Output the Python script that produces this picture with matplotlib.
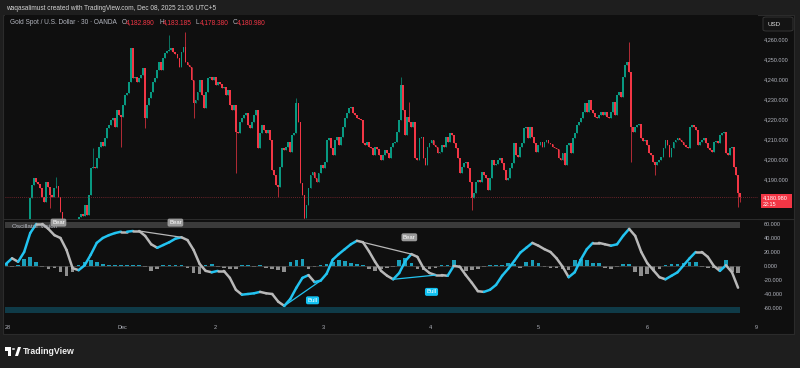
import matplotlib
matplotlib.use('Agg')
import matplotlib.pyplot as plt
from matplotlib.collections import LineCollection
from matplotlib.patches import Rectangle, FancyBboxPatch
import numpy as np

plt.rcParams['font.family'] = ['Liberation Sans', 'DejaVu Sans']

# XAUUSD 30m, OANDA. first bars sit below the visible price range
first_open = 4162.0
early_closes = [4163, 4160, 4158, 4161, 4164, 4162, 4166, 4165, 4163, 4167, 4165, 4168]

closes = [
    4180.5, 4187, 4190.5, 4188.5, 4187.5, 4185.5, 4181, 4178.5, 4188.5, 4186,
    4182, 4181, 4185.5, 4186.5, 4181, 4173.5, 4169.5, 4166.5, 4164.5, 4163.5,
    4165.5, 4164.5, 4166.5, 4168.5, 4171, 4172.5, 4171.5, 4177, 4172, 4182,
    4195.5, 4196, 4195.5, 4200.5, 4206, 4208.5, 4206.5, 4210.5, 4215.5, 4217,
    4219.5, 4220.5, 4216, 4224.5, 4222, 4221, 4227, 4232, 4233, 4238.5,
    4255.5, 4240.5, 4241, 4238.5, 4240.5, 4242, 4245.5, 4220.5, 4227, 4230.5,
    4233.5, 4238.5, 4240.5, 4244.5, 4248.5, 4244.5, 4250.5, 4253, 4254, 4254.5,
    4255.5, 4253.5, 4252.5, 4250.5, 4246, 4253.5, 4256, 4248.5, 4247, 4246,
    4239.5, 4228, 4229.5, 4233.5, 4239.5, 4232, 4225.5, 4233.5, 4240.5, 4241,
    4239.5, 4241, 4237, 4238.5, 4237.5, 4235.5, 4236, 4232, 4234.5, 4227,
    4224.5, 4227, 4213.5, 4213, 4218.5, 4220.5, 4222, 4223, 4217, 4215.5,
    4218.5, 4222, 4224.5, 4205.5, 4213, 4217, 4214.5, 4213, 4214.5, 4209.5,
    4194.5, 4192, 4187, 4186, 4196, 4205.5, 4204.5, 4206, 4208.5, 4203.5,
    4212, 4213, 4228, 4218.5, 4188, 4182, 4170.5, 4177, 4185.5, 4192,
    4193.5, 4190.5, 4188.5, 4193, 4197, 4195.5, 4198.5, 4209.5, 4210.5, 4205.5,
    4202, 4209.5, 4211, 4207, 4211, 4216, 4220.5, 4223, 4225.5, 4226,
    4223, 4222, 4220.5, 4220, 4219.5, 4208, 4207, 4208.5, 4206, 4205.5,
    4202, 4206, 4205, 4202, 4199.5, 4202, 4204.5, 4203, 4200.5, 4206,
    4208, 4208.5, 4213.5, 4219.5, 4237, 4224.5, 4212, 4221, 4218.5, 4216,
    4218.5, 4200.5, 4199.5, 4210.5, 4211, 4200.5, 4197, 4206, 4208, 4209.5,
    4207, 4206, 4203, 4203.5, 4207, 4206, 4211, 4208.5, 4213, 4212,
    4208, 4205.5, 4200.5, 4193, 4196, 4198, 4198.5, 4195.5, 4188.5, 4180.5,
    4183, 4188.5, 4189.5, 4188.5, 4193.5, 4192, 4190.5, 4184.5, 4190.5, 4199.5,
    4197, 4197.5, 4199.5, 4200.5, 4198, 4194.5, 4189.5, 4190.5, 4195.5, 4198,
    4208, 4202, 4201, 4206, 4208, 4215.5, 4216, 4210.5, 4216, 4211,
    4208, 4203.5, 4207, 4208.5, 4206, 4208.5, 4209.5, 4208, 4207.5, 4206,
    4205.5, 4205, 4200.5, 4199.5, 4203, 4197, 4207, 4208, 4203, 4210.5,
    4213, 4217, 4218.5, 4220.5, 4223.5, 4228, 4223.5, 4229.5, 4224.5, 4223,
    4221, 4220.5, 4222, 4223.5, 4222, 4223.5, 4221, 4220.5, 4223.5, 4228.5,
    4222, 4232, 4233.5, 4231, 4241, 4247, 4248.5, 4243.5, 4216, 4213.5,
    4216, 4217, 4217.5, 4210.5, 4209, 4209.5, 4207, 4203, 4202, 4198.5,
    4197, 4198.5, 4199.5, 4201, 4205.5, 4209.5, 4207, 4201, 4205.5, 4208.5,
    4209.5, 4210.5, 4209.5, 4208.5, 4207, 4206, 4205.5, 4216, 4217, 4216,
    4214.5, 4207, 4208.5, 4209.5, 4210.5, 4208, 4205.5, 4204.5, 4203.5, 4208.5,
    4209, 4208, 4212, 4213, 4213.5, 4203, 4202, 4205.5, 4206, 4196,
    4192, 4182.89, 4180.98,
]

# only the wicks that stick out visibly (index into closes)
wick_highs = {13: 4191, 31: 4205.5, 69: 4262, 77: 4263.5, 132: 4230.5,
              184: 4241, 188: 4228.5, 297: 4258.5, 352: 4183.185}
wick_lows = {10: 4175.5, 45: 4206, 57: 4215.5, 81: 4220.5, 102: 4193,
             123: 4181, 136: 4168.5, 219: 4174.5, 298: 4198.5, 310: 4192,
             351: 4176, 352: 4178.38}

# oscillator, one reading every 3 bars
osc_step = 3
osc = [
    3, 11, 6, 20, 47, 60, 60, 53, 44, 40,
    23, -3, -6, 1, 16, 33, 40, 44, 47, 49,
    49, 50, 50, 43, 31, 26, 30, 34, 39, 41,
    37, 23, 3, -7, -9, -7, -7, -17, -34, -41,
    -40, -39, -37, -39, -40, -51, -57, -47, -31, -17,
    -13, -23, -21, -11, 9, 17, 24, 31, 36, 34,
    21, 6, -7, -14, -19, -10, 7, 17, 13, -3,
    -10, -13, -13, -14, 0, -1, -13, -24, -36, -37,
    -34, -27, -14, -4, 7, 19, 26, 33, 29, 24,
    20, 11, -1, -16, -9, 9, 24, 33, 33, 31,
    29, 31, 43, 53, 43, 20, 4, -6, -16, -19,
    -14, -9, 1, 11, 20, 20, 13, 0, -7, 1,
    -9, -31,
]
osc_hist = [
    3, -2, 2, 10, 13, 6, -2, -4, -3, -8,
    -15, -8, 2, 6, 8, 5, 3, 2, 2, 1,
    1, 2, 1, -2, -7, -4, 2, 2, 2, 1,
    -3, -10, -12, 2, 3, -2, -3, -5, -4, 2,
    1, -1, 2, -3, -5, -6, -8, 5, 9, 10,
    -5, -2, 2, 3, 6, 9, 7, 4, 3, 1,
    -4, -7, -5, -3, -2, 8, 12, 4, -4, -6,
    -5, -3, 1, 2, 8, -3, -7, -6, -5, -2,
    1, 2, 2, 4, 3, -3, 6, 8, 4, -1,
    -3, -3, -5, -6, 8, 10, 8, 4, 4, -3,
    -4, -2, 3, 3, -8, -15, -12, -6, -5, 2,
    3, 3, 4, 6, 5, -2, -3, -3, -5, 8,
    -8, -10,
]
# divergences as (from sample, to sample)
bear_divs = [(22, 29), (58, 67)]
bull_divs = [(46, 52), (64, 71)]
div_labels = [(26, 62, 'Bear'), (84, 62, 'Bear'), (200, 41, 'Bear'),
              (152, -49, 'Bull'), (211, -37, 'Bull')]

day_ticks = [1.0, 57.5, 103.6, 157.2, 210.3, 263.8, 317.9, 371.9]
day_labels = ['28', 'Dec', '2', '3', '4', '5', '6', '9']

UP = '#089981'
DOWN = '#f23645'
CYAN = '#22c3f0'
GREY = '#b8b8b8'
TXT = '#b2b5be'
PANEL = '#0f0f0f'
W, H = 800, 368


def box(x0, y0, x1, y1):
    return [x0 / W, 1 - y1 / H, (x1 - x0) / W, (y1 - y0) / H]


def fx(px):
    return px / W


def fy(py):
    return 1 - py / H


fig = plt.figure(figsize=(8, 3.68), dpi=100, facecolor='#1e1e1e')
fig.patches.append(Rectangle((fx(3), fy(334)), fx(794) - fx(3), fy(15) - fy(334),
                             transform=fig.transFigure, fc=PANEL, ec='#2b2b2b', lw=0.8, zorder=-5))

# ---- price pane
ax = fig.add_axes(box(5, 15, 758, 219))
ax.set_zorder(2)
ax.set_facecolor(PANEL)
all_closes = np.array(early_closes + closes, dtype=float)
n = len(all_closes)
off = len(early_closes)
opens = np.concatenate([[first_open], all_closes[:-1]])
highs = np.maximum(opens, all_closes)
lows = np.minimum(opens, all_closes)
for k, v in wick_highs.items():
    highs[k + off] = v
for k, v in wick_lows.items():
    lows[k + off] = v
idx = np.arange(n)
cols = np.where(all_closes >= opens, UP, DOWN)
ax.vlines(idx, lows, highs, colors=cols, lw=0.5)
body = np.where(np.abs(all_closes - opens) < 0.5, 0.5, all_closes - opens)
ax.bar(idx, body, bottom=opens, width=0.9, color=cols, lw=0)
last = all_closes[-1]
ax.axhline(last, color='#8a2a33', lw=0.6, ls=(0, (1, 1.5)))
ax.set_xlim(-0.5, 372.9)
ax.set_ylim(4170, 4272)
ax.set_yticks(np.arange(4190, 4261, 10))
ax.set_yticklabels(['{:,.3f}'.format(v) for v in np.arange(4190, 4261, 10)])
ax.yaxis.tick_right()
ax.tick_params(axis='y', length=0, pad=4.3, labelsize=4, labelcolor=TXT)
ax.set_xticks([])
for s in ax.spines.values():
    s.set_visible(False)

# ---- oscillator pane
ox = fig.add_axes(box(5, 220, 758, 318))
ox.set_zorder(2)
ox.set_facecolor(PANEL)
osc = np.array(osc, dtype=float)
hist = np.array(osc_hist, dtype=float)
oi = np.arange(len(osc)) * osc_step
ox.fill_between([-0.5, n - 1], 54, 63, color='#3a3a3a', lw=0)
ox.fill_between([-0.5, n - 1], -67, -58, color='#0f3b48', lw=0)
ox.axhline(0, color='#4a4a4a', lw=0.5, xmax=(n - 1 + 0.5) / 373.4)
ox.bar(oi, hist, width=1.8, color=np.where(hist >= 0, '#1b9fba', '#8f8f8f'), lw=0)
segs = np.stack([np.column_stack([oi[:-1], osc[:-1]]), np.column_stack([oi[1:], osc[1:]])], axis=1)
seg_cols = [CYAN if b > a else GREY for a, b in zip(osc[:-1], osc[1:])]
ox.add_collection(LineCollection(segs, colors=seg_cols, lw=1.8, capstyle='round'))
for a, b in bear_divs:
    ox.plot([oi[a], oi[b]], [osc[a], osc[b]], color=GREY, lw=0.9)
for a, b in bull_divs:
    ox.plot([oi[a], oi[b]], [osc[a], osc[b]], color=CYAN, lw=0.9)
ox.text(3, 57, 'Oscillator Vision', fontsize=4.6, color=TXT, va='center', ha='left')
for xi, yv, t in div_labels:
    fc = '#9a9a9a' if t == 'Bear' else '#12c2f2'
    ox.text(xi, yv, t, fontsize=4.3, color='white', ha='center', va='center', zorder=6,
            bbox=dict(boxstyle='round,pad=0.25,rounding_size=0.3', fc=fc, ec='none'))
ox.set_xlim(-0.5, 372.9)
ox.set_ylim(-74.3, 65.7)
ox.set_yticks(np.arange(-60, 61, 20))
ox.set_yticklabels(['{:.3f}'.format(v) for v in np.arange(-60, 61, 20)])
ox.yaxis.tick_right()
ox.tick_params(axis='y', length=0, pad=4.3, labelsize=4, labelcolor=TXT)
ox.set_xticks(day_ticks)
ox.set_xticklabels(day_labels)
ox.tick_params(axis='x', length=0, pad=5, labelsize=4, labelcolor=TXT)
for s in ox.spines.values():
    s.set_visible(False)
fig.add_artist(plt.Line2D([fx(3), fx(794)], [fy(219.5), fy(219.5)], color='#2b2b2b', lw=0.8, zorder=1))

# ---- header, legend, boxes
fig.text(fx(6), fy(8), 'waqasalimust created with TradingView.com, Dec 08, 2025 21:06 UTC+5',
         fontsize=4.7, color='#d4d4d4', va='center')
o_last, h_last, l_last = opens[-1], highs[-1], lows[-1]
legend_parts = [('Gold Spot / U.S. Dollar · 30 · OANDA', 10, TXT),
                ('O', 122, TXT), ('{:,.3f}'.format(o_last), 126, DOWN),
                ('H', 159, TXT), ('{:,.3f}'.format(h_last), 163, DOWN),
                ('L', 196, TXT), ('{:,.3f}'.format(l_last), 200, DOWN),
                ('C', 233, TXT), ('{:,.3f}'.format(last), 237, DOWN)]
for t, px, c in legend_parts:
    fig.text(fx(px), fy(23), t, fontsize=4.7, color=c, va='center', zorder=5)

fig.patches.append(FancyBboxPatch((fx(763), fy(31)), fx(30), fy(17) - fy(31),
                                  boxstyle='round,pad=0,rounding_size=0.004',
                                  transform=fig.transFigure, fc='#141414', ec='#3a3a3a', lw=0.6, zorder=5))
fig.text(fx(767), fy(24), 'USD', fontsize=4.5, color='#e0e0e0', va='center', zorder=6)

fig.patches.append(Rectangle((fx(761), fy(208)), fx(31), fy(194) - fy(208),
                             transform=fig.transFigure, fc=DOWN, ec='none', zorder=5))
fig.text(fx(763), fy(198), '{:,.3f}'.format(last), fontsize=4, color='white', va='center', zorder=6)
fig.text(fx(763), fy(204), '22:15', fontsize=4, color='white', va='center', zorder=6)

# TradingView mark
fig.patches.append(Rectangle((fx(5), fy(351)), fx(6), fy(347) - fy(351), transform=fig.transFigure, fc='white', ec='none'))
fig.patches.append(Rectangle((fx(8), fy(356)), fx(3), fy(347) - fy(356), transform=fig.transFigure, fc='white', ec='none'))
fig.patches.append(plt.Circle((fx(13.5), fy(349)), 1.6 / W, transform=fig.transFigure, fc='white', ec='none'))
fig.patches.append(plt.Polygon([(fx(15), fy(356)), (fx(18), fy(347)), (fx(21), fy(347)), (fx(18), fy(356))],
                               transform=fig.transFigure, fc='white', ec='none'))
fig.text(fx(23), fy(351.5), 'TradingView', fontsize=6.3, color='#f0f0f0', va='center', weight='bold')

fig.savefig('out.png', dpi=100, facecolor=fig.get_facecolor())
